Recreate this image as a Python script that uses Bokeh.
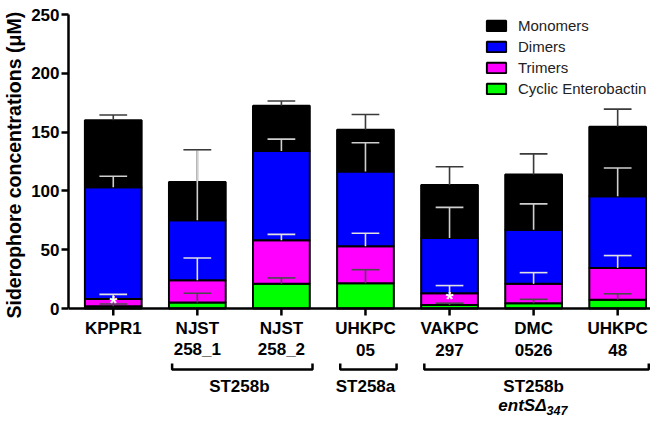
import numpy as np
from bokeh.plotting import figure
from bokeh.models import Range1d, FixedTicker, Span, Title, Legend, LegendItem, ColumnDataSource
from bokeh.core.properties import value
from bokeh.embed import file_html
from bokeh.resources import INLINE

# ---------------- data ----------------
strains_line1 = ["KPPR1", "NJST", "NJST", "UHKPC", "VAKPC", "DMC", "UHKPC"]
strains_line2 = ["", "258_1", "258_2", "05", "297", "0526", "48"]
series_names = ["Monomers", "Dimers", "Trimers", "Cyclic Enterobactin"]
monomers = [57, 32.5, 38.5, 35.5, 45, 47, 59]
dimers = [95, 51, 76, 63.5, 47, 46, 61]
trimers = [6, 19, 37, 31.5, 10, 16.5, 27]
cyclic = [2, 5, 21, 21.5, 3, 4.5, 7.5]
monomers_err = [4.5, 27.5, 4, 13, 15.5, 17.5, 15]
dimers_err = [9.5, 60, 10, 24.5, 26, 22, 24]
trimers_err = [4, 19, 5, 11, 6.5, 9.5, 10.5]
cyclic_err = [1.8, 8, 5, 11.5, 1.5, 3.3, 5]
stars = ["*", "", "", "", "*", "", ""]
group_names = ["ST258b", "ST258a", "ST258b"]
group_sub = ["", "", "entS\u0394"]
group_subscript = ["", "", "347"]
group_first = [1, 3, 4]
group_last = [2, 3, 6]
y_ticks = [0, 50, 100, 150, 200, 250]
y_label = "Siderophore concentrations (\u03bcM)"

# ---------------- layout ----------------
W, H = 650, 421
LEFT, TOP = 65, 14
Y0_PX = 308                      # canvas row of y = 0
YMAX = 250
PPU = (Y0_PX - TOP) / YMAX       # pixels per data unit
FIRST_PX, STEP_PX = 110, 84.5    # canvas column of first bar, spacing
x_start = (LEFT - FIRST_PX) / STEP_PX
x_end = x_start + (W - LEFT) / STEP_PX
y_start = -(H - Y0_PX) / PPU
frame_h = H - TOP

FONT = "Liberation Sans"
colors = {"Monomers": "#000000", "Dimers": "#0000ff", "Trimers": "#ff00ff",
          "Cyclic Enterobactin": "#00ff00"}
err_colors = {"Monomers": "#3a3a3a", "Dimers": "#cfcfcf", "Trimers": "#e2e2e2",
              "Cyclic Enterobactin": "#4a4a4a"}

p = figure(width=W, height=H, x_range=Range1d(x_start, x_end), y_range=Range1d(y_start, YMAX),
           x_axis_location=None, y_axis_location="left", title=None,
           min_border_left=LEFT, min_border_right=0, min_border_top=TOP, min_border_bottom=0,
           output_backend="svg", toolbar_location=None)
p.outline_line_color = None
p.grid.visible = False
p.background_fill_color = "white"

# y axis
ax = p.yaxis[0]
ax.ticker = FixedTicker(ticks=y_ticks)
ax.bounds = (0, YMAX)
ax.axis_line_width = 2.5
ax.major_tick_line_width = 2.5
ax.major_tick_out = 7
ax.major_tick_in = 0
ax.minor_tick_out = 0
ax.minor_tick_in = 0
ax.major_label_standoff = 2
ax.major_label_text_font = FONT
ax.major_label_text_font_style = "bold"
ax.major_label_text_font_size = "17px"
ax.major_label_text_color = "black"

# y axis title, starting near the bottom of the 0..250 span and reading upward
p.add_layout(Title(text=y_label, align="left", vertical_align="top", offset=(H - Y0_PX) - 10,
                   text_font=FONT, text_font_style="bold", text_font_size="19.5px",
                   text_color="black", standoff=4), "left")

# x axis line and ticks
xs = list(range(len(strains_line1)))
p.add_layout(Span(location=0, dimension="width", line_color="black", line_width=2.5))
p.segment(x0=xs, y0=[0] * len(xs), x1=xs, y1=[-7 / PPU] * len(xs), line_color="black", line_width=2.5)

# stacked bars
m = np.array(monomers); d = np.array(dimers); t = np.array(trimers); c = np.array(cyclic)
bottoms = {"Cyclic Enterobactin": np.zeros(len(xs)), "Trimers": c, "Dimers": c + t, "Monomers": c + t + d}
tops = {"Cyclic Enterobactin": c, "Trimers": c + t, "Dimers": c + t + d, "Monomers": c + t + d + m}
errs = {"Monomers": monomers_err, "Dimers": dimers_err, "Trimers": trimers_err,
        "Cyclic Enterobactin": cyclic_err}
BAR_W = 0.675
renderers = {}
for name in ["Cyclic Enterobactin", "Trimers", "Dimers", "Monomers"]:
    src = ColumnDataSource(dict(x=xs, bottom=bottoms[name], top=tops[name]))
    renderers[name] = p.vbar(x="x", width=BAR_W, bottom="bottom", top="top", source=src,
                             fill_color=colors[name], line_color="black", line_width=2)

# error bars (upper only)
CAP = 0.165
for name in ["Monomers", "Dimers", "Trimers", "Cyclic Enterobactin"]:
    tp = tops[name]; e = np.array(errs[name])
    p.segment(x0=xs, y0=tp, x1=xs, y1=tp + e, line_color=err_colors[name], line_width=1.6)
for name in ["Cyclic Enterobactin", "Trimers", "Dimers", "Monomers"]:
    tp = tops[name]; e = np.array(errs[name])
    p.segment(x0=np.array(xs) - CAP, y0=tp + e, x1=np.array(xs) + CAP, y1=tp + e,
              line_color=err_colors[name], line_width=1.6)

# significance stars
p.text(x=xs, y=c + t / 2, text=stars, text_color="white", text_font=value(FONT),
       text_font_style="bold", text_font_size="20px", text_align="center", text_baseline="middle")

# category labels
for labels, off in [(strains_line1, 20), (strains_line2, 41)]:
    p.text(x=xs, y=[0] * len(xs), text=labels, y_offset=off, text_color="black",
           text_font=value(FONT), text_font_style="bold", text_font_size="17px",
           text_align="center", text_baseline="middle")

# group brackets
br_base = -61 / PPU
br_tip = -55 / PPU
bx, by = [], []
for f, l in zip(group_first, group_last):
    lo, hi = f - 0.3, l + 0.37
    bx.append([lo, lo, hi, hi]); by.append([br_tip, br_base, br_base, br_tip])
p.multi_line(xs=bx, ys=by, line_color="black", line_width=2.5)
centers = [(f + l) / 2 for f, l in zip(group_first, group_last)]
p.text(x=centers, y=[0] * 3, text=group_names, y_offset=78, text_color="black",
       text_font=value(FONT), text_font_style="bold", text_font_size="17px",
       text_align="center", text_baseline="middle")
p.text(x=centers, y=[0] * 3, text=group_sub, y_offset=97, x_offset=13, text_color="black",
       text_font=value(FONT), text_font_style="bold italic", text_font_size="17px",
       text_align="right", text_baseline="middle")
p.text(x=centers, y=[0] * 3, text=group_subscript, y_offset=102, x_offset=13, text_color="black",
       text_font=value(FONT), text_font_style="bold italic", text_font_size="12.5px",
       text_align="left", text_baseline="middle")

# legend (location = bottom-left corner, relative to the frame's bottom-left)
LEG_H = 4 * 18 + 3 * 3
items = [LegendItem(label=n, renderers=[renderers[n]]) for n in series_names]
legend = Legend(items=items, location=(481 - LEFT, frame_h - (16 - TOP) - LEG_H),
                orientation="vertical",
                glyph_width=24, glyph_height=13, label_height=18, spacing=3, padding=0, margin=0,
                label_standoff=10, label_text_font=FONT, label_text_font_size="15px",
                label_text_color="#222222", border_line_color=None, background_fill_alpha=0)
p.add_layout(legend)

open("out.html", "w").write(file_html(p, INLINE))
